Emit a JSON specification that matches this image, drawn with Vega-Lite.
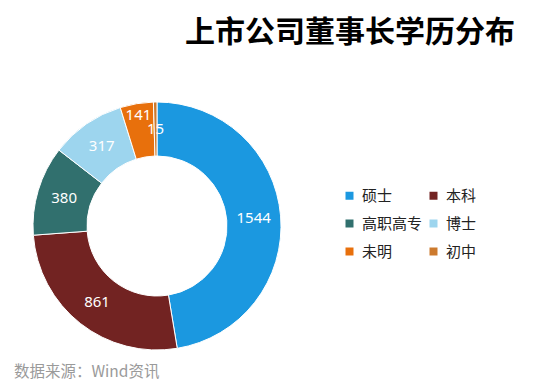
{
  "$schema": "https://vega.github.io/schema/vega-lite/v6.json",
  "autosize": {"type": "pad"},
  "padding": {"left": 14, "top": 18, "right": 37, "bottom": 5},
  "background": "white",
  "title": {
    "text": "上市公司董事长学历分布",
    "anchor": "start",
    "frame": "group",
    "dx": 153,
    "offset": 52,
    "fontSize": 30,
    "font": "Noto Sans CJK SC",
    "fontWeight": "bold",
    "color": "#000000"
  },
  "config": {"view": {"stroke": null}},
  "vconcat": [
    {
      "width": 250,
      "height": 250,
      "title": {
        "text": "数据来源：Wind资讯",
        "orient": "bottom",
        "anchor": "start",
        "frame": "group",
        "dx": -18,
        "offset": 13,
        "fontSize": 15.5,
        "fontWeight": "normal",
        "color": "#9a9a9a",
        "font": "Noto Sans CJK SC"
      },
      "data": {
        "values": [
          {"cat": "硕士", "count": 1544, "rank": 1},
          {"cat": "本科", "count": 861, "rank": 2},
          {"cat": "高职高专", "count": 380, "rank": 3},
          {"cat": "博士", "count": 317, "rank": 4},
          {"cat": "未明", "count": 141, "rank": 5},
          {"cat": "初中", "count": 15, "rank": 6}
        ]
      },
      "encoding": {
        "theta": {"field": "count", "type": "quantitative", "stack": true},
        "order": {"field": "rank", "type": "quantitative", "sort": "ascending"}
      },
      "layer": [
        {
          "mark": {"type": "arc", "outerRadius": 124, "innerRadius": 70, "stroke": "white", "strokeWidth": 1},
          "encoding": {
            "color": {
              "field": "cat",
              "type": "nominal",
              "scale": {
                "domain": ["硕士", "本科", "高职高专", "博士", "未明", "初中"],
                "range": ["#1B98E0", "#722322", "#31706E", "#9DD5EE", "#E8700C", "#CC7A2E"]
              },
              "legend": {
                "orient": "none",
                "legendX": 310,
                "legendY": 87,
                "direction": "horizontal",
                "columns": 2,
                "title": null,
                "symbolType": "square",
                "symbolSize": 64,
                "symbolStrokeWidth": 0,
                "labelFontSize": 15,
                "labelFont": "Noto Sans CJK SC",
                "labelColor": "#222222",
                "labelOffset": 5,
                "rowPadding": 12,
                "columnPadding": 3,
                "padding": 0
              }
            }
          }
        },
        {
          "mark": {"type": "text", "radius": 97, "fontSize": 15, "font": "Noto Sans", "color": "#ffffff"},
          "encoding": {
            "detail": {"field": "cat", "type": "nominal"},
            "text": {
              "condition": {"test": "datum.cat !== '未明'", "field": "count", "type": "quantitative"},
              "value": ""
            }
          }
        },
        {
          "mark": {"type": "text", "radius": 113, "fontSize": 15, "font": "Noto Sans", "color": "#ffffff"},
          "encoding": {
            "detail": {"field": "cat", "type": "nominal"},
            "text": {
              "condition": {"test": "datum.cat === '未明'", "field": "count", "type": "quantitative"},
              "value": ""
            }
          }
        }
      ]
    }
  ]
}
